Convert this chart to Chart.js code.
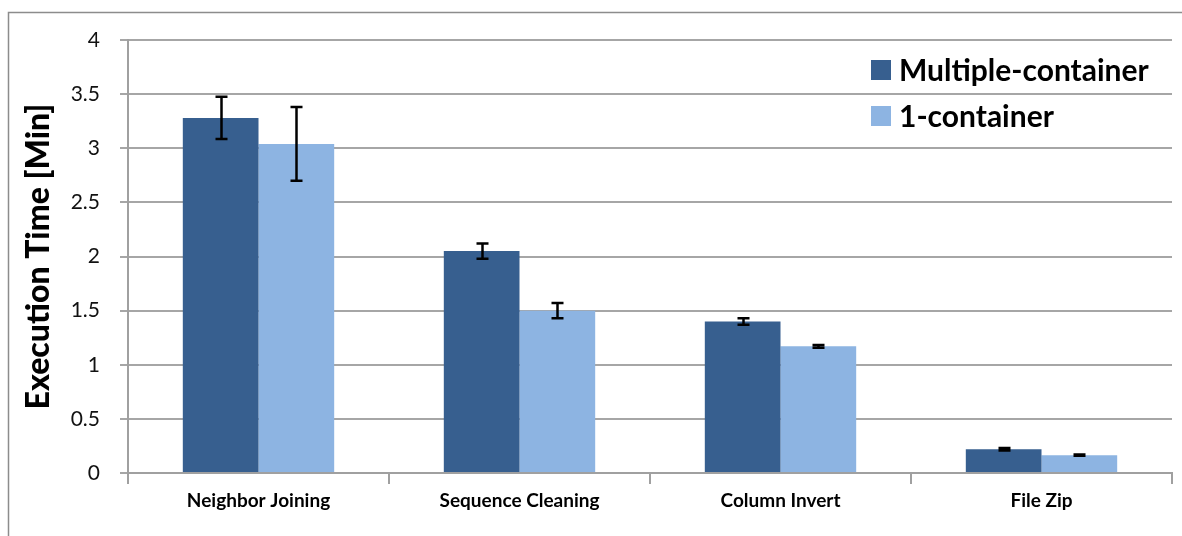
<!DOCTYPE html>
<html>
<head>
<meta charset="utf-8">
<script src="https://cdn.jsdelivr.net/npm/chart.js@4/dist/chart.umd.min.js"></script>
<style>
  html, body { margin: 0; padding: 0; background: #fff; }
  #wrap { position: relative; width: 1182px; height: 536px; }
</style>
</head>
<body>
<div id="wrap"><canvas id="grafica" width="1182" height="536"></canvas></div>
<script>
// datos
const categories = ['Neighbor Joining', 'Sequence Cleaning', 'Column Invert', 'File Zip'];
const multiple = [3.28, 2.05, 1.40, 0.22];
const multipleErr = [0.195, 0.07, 0.03, 0.012];
const single = [3.04, 1.50, 1.17, 0.165];
const singleErr = [0.34, 0.07, 0.012, 0.006];
const yTicks = [0, 0.5, 1, 1.5, 2, 2.5, 3, 3.5, 4];

const FONT = 'Lato, "Open Sans", sans-serif';

// marco gris alrededor de la figura
const framePlugin = {
    id: 'frame',
    beforeDraw(chart) {
        const ctx = chart.ctx;
        ctx.save();
        ctx.strokeStyle = '#8c8c8c';
        ctx.lineWidth = 1.5;
        ctx.beginPath();
        ctx.moveTo(8.5, 536);
        ctx.lineTo(8.5, 12.5);
        ctx.lineTo(1182, 12.5);
        ctx.stroke();
        ctx.restore();
    }
};

// barras de error
const errorPlugin = {
    id: 'errores',
    afterDatasetsDraw(chart) {
        const ctx = chart.ctx;
        const y = chart.scales.y;
        ctx.save();
        ctx.strokeStyle = '#000';
        ctx.lineWidth = 2.5;
        chart.data.datasets.forEach((ds, i) => {
            const meta = chart.getDatasetMeta(i);
            meta.data.forEach((bar, j) => {
                const v = ds.data[j];
                const e = ds.errores[j];
                const top = y.getPixelForValue(v + e);
                const bot = y.getPixelForValue(v - e);
                const x = Math.round(bar.x) + 0.5;
                ctx.beginPath();
                ctx.moveTo(x, top); ctx.lineTo(x, bot);
                ctx.moveTo(x - 6, top); ctx.lineTo(x + 6, top);
                ctx.moveTo(x - 6, bot); ctx.lineTo(x + 6, bot);
                ctx.stroke();
            });
        });
        ctx.restore();
    }
};

// leyenda dentro del area del grafico
const legendPlugin = {
    id: 'leyenda',
    afterDraw(chart) {
        const ctx = chart.ctx;
        ctx.save();
        ctx.font = 'bold 30px ' + FONT;
        ctx.textBaseline = 'middle';
        const rows = [70, 116];
        chart.data.datasets.forEach((ds, i) => {
            ctx.fillStyle = ds.backgroundColor;
            ctx.fillRect(871, rows[i] - 10, 20, 20);
            ctx.fillStyle = '#000';
            ctx.fillText(ds.label, 899, rows[i] + 1);
        });
        ctx.restore();
    }
};

const ctx = document.getElementById('grafica').getContext('2d');
new Chart(ctx, {
    type: 'bar',
    data: {
        labels: categories,
        datasets: [
            {
                label: 'Multiple-container',
                data: multiple,
                errores: multipleErr,
                backgroundColor: '#375f8f',
                borderWidth: 0
            },
            {
                label: '1-container',
                data: single,
                errores: singleErr,
                backgroundColor: '#8db4e2',
                borderWidth: 0
            }
        ]
    },
    options: {
        responsive: false,
        animation: false,
        layout: { padding: { top: 40, right: 10, left: 0, bottom: 0 } },
        categoryPercentage: 0.58,
        barPercentage: 1,
        plugins: {
            legend: { display: false },
            tooltip: { enabled: false }
        },
        scales: {
            x: {
                grid: {
                    offset: true,
                    drawOnChartArea: false,
                    drawTicks: true,
                    tickLength: 11,
                    color: '#a0a0a0',
                    lineWidth: 2
                },
                border: { color: '#a0a0a0', width: 2 },
                ticks: {
                    color: '#000',
                    padding: 5,
                    font: { family: FONT, size: 19, weight: 'bold' }
                },
                afterFit(scale) { scale.height = 63; }
            },
            y: {
                min: 0,
                max: 4,
                afterBuildTicks(scale) {
                    scale.ticks = yTicks.map(v => ({ value: v }));
                },
                grid: {
                    color: '#a6a6a6',
                    lineWidth: 2,
                    drawTicks: true,
                    tickLength: 8
                },
                border: { color: '#a0a0a0', width: 2 },
                ticks: {
                    color: '#111',
                    padding: 20,
                    font: { family: FONT, size: 21 },
                    callback: v => String(v)
                },
                title: {
                    display: true,
                    text: 'Execution Time [Min]',
                    color: '#000',
                    padding: { top: 19, bottom: 0 },
                    font: { family: FONT, size: 32, weight: '900' }
                },
                afterFit(scale) { scale.width = 128; }
            }
        }
    },
    plugins: [framePlugin, errorPlugin, legendPlugin]
});
</script>
</body>
</html>
